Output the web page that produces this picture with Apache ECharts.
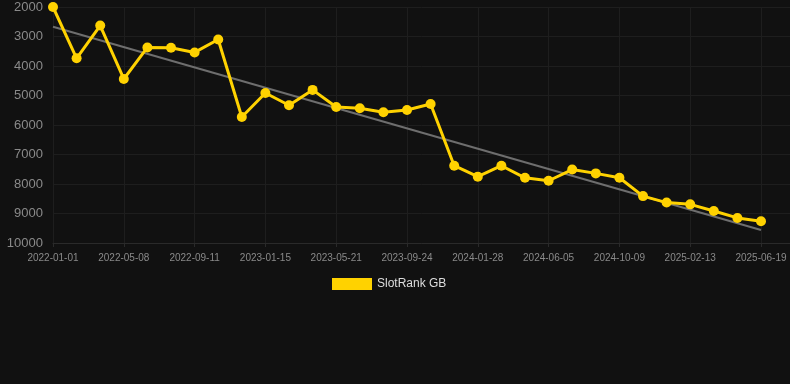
<!DOCTYPE html>
<html>
<head>
<meta charset="utf-8">
<script src="https://cdn.jsdelivr.net/npm/echarts@6/dist/echarts.min.js"></script>
<style>html,body{margin:0;padding:0;background:#111111;}#c{width:790px;height:384px;}</style>
</head>
<body>
<div id="c"></div>
<script>
const categories = [
  '2022-01-01','2022-02-12','2022-03-26','2022-05-08','2022-06-19','2022-07-31',
  '2022-09-11','2022-10-23','2022-12-04','2023-01-15','2023-02-26','2023-04-09',
  '2023-05-21','2023-07-02','2023-08-13','2023-09-24','2023-11-05','2023-12-17',
  '2024-01-28','2024-03-11','2024-04-23','2024-06-05','2024-07-17','2024-08-28',
  '2024-10-09','2024-11-20','2025-01-01','2025-02-13','2025-03-27','2025-05-08',
  '2025-06-19'
];
const rankValues = [
  2000, 3740, 2630, 4440, 3370, 3380, 3540, 3100, 5730, 4915, 5330, 4810,
  5390, 5435, 5570, 5490, 5290, 7380, 7750, 7380, 7790, 7890, 7510, 7640,
  7790, 8410, 8630, 8690, 8915, 9150, 9265
];
const trendStart = 2670;
const trendEnd = 9560;
const yTicks = [2000, 10000, 1000];
const seriesName = 'SlotRank GB';

const lastIdx = categories.length - 1;
const xMax = lastIdx + 29 / 23.6;

const chart = echarts.init(document.getElementById('c'));
chart.setOption({
  backgroundColor: '#111111',
  animation: false,
  grid: { left: 53, right: 0, top: 7, bottom: 141, containLabel: false },
  legend: {
    data: [seriesName],
    top: 278,
    left: 332,
    padding: 0,
    itemWidth: 40,
    itemHeight: 12,
    icon: 'rect',
    textStyle: { color: '#dddddd', fontSize: 12, fontFamily: 'Liberation Sans, Arial, sans-serif' }
  },
  xAxis: {
    type: 'value',
    min: 0,
    max: xMax,
    interval: 3,
    axisLine: { show: true, lineStyle: { color: '#2a2a2a' } },
    axisTick: { show: true, lineStyle: { color: '#2a2a2a' }, length: 4 },
    axisLabel: {
      showMaxLabel: false,
      color: '#8a8a8a', fontSize: 10, margin: 10,
      fontFamily: 'Liberation Sans, Arial, sans-serif',
      formatter: function (v) { return Number.isInteger(v) && categories[v] ? categories[v] : ''; }
    },
    splitLine: { show: true, lineStyle: { color: '#1e1e1e', width: 1 } }
  },
  yAxis: {
    type: 'value',
    inverse: true,
    min: yTicks[0],
    max: yTicks[1],
    interval: yTicks[2],
    axisLine: { show: false },
    axisTick: { show: false },
    axisLabel: {
      color: '#8a8a8a', fontSize: 13, margin: 10,
      fontFamily: 'Liberation Sans, Arial, sans-serif',
      formatter: function (v) { return String(v); }
    },
    splitLine: { show: true, lineStyle: { color: '#1e1e1e', width: 1 } }
  },
  series: [
    {
      name: 'trend',
      type: 'line',
      data: [[0, trendStart], [lastIdx, trendEnd]],
      symbol: 'none',
      lineStyle: { color: '#6e6e6e', width: 2 },
      itemStyle: { color: '#6e6e6e' },
      z: 2,
      silent: true
    },
    {
      name: seriesName,
      type: 'line',
      data: rankValues.map(function (v, i) { return [i, v]; }),
      symbol: 'circle',
      symbolSize: 10,
      lineStyle: { color: '#ffd200', width: 3 },
      itemStyle: { color: '#ffd200' },
      z: 3
    }
  ]
});
</script>
</body>
</html>
